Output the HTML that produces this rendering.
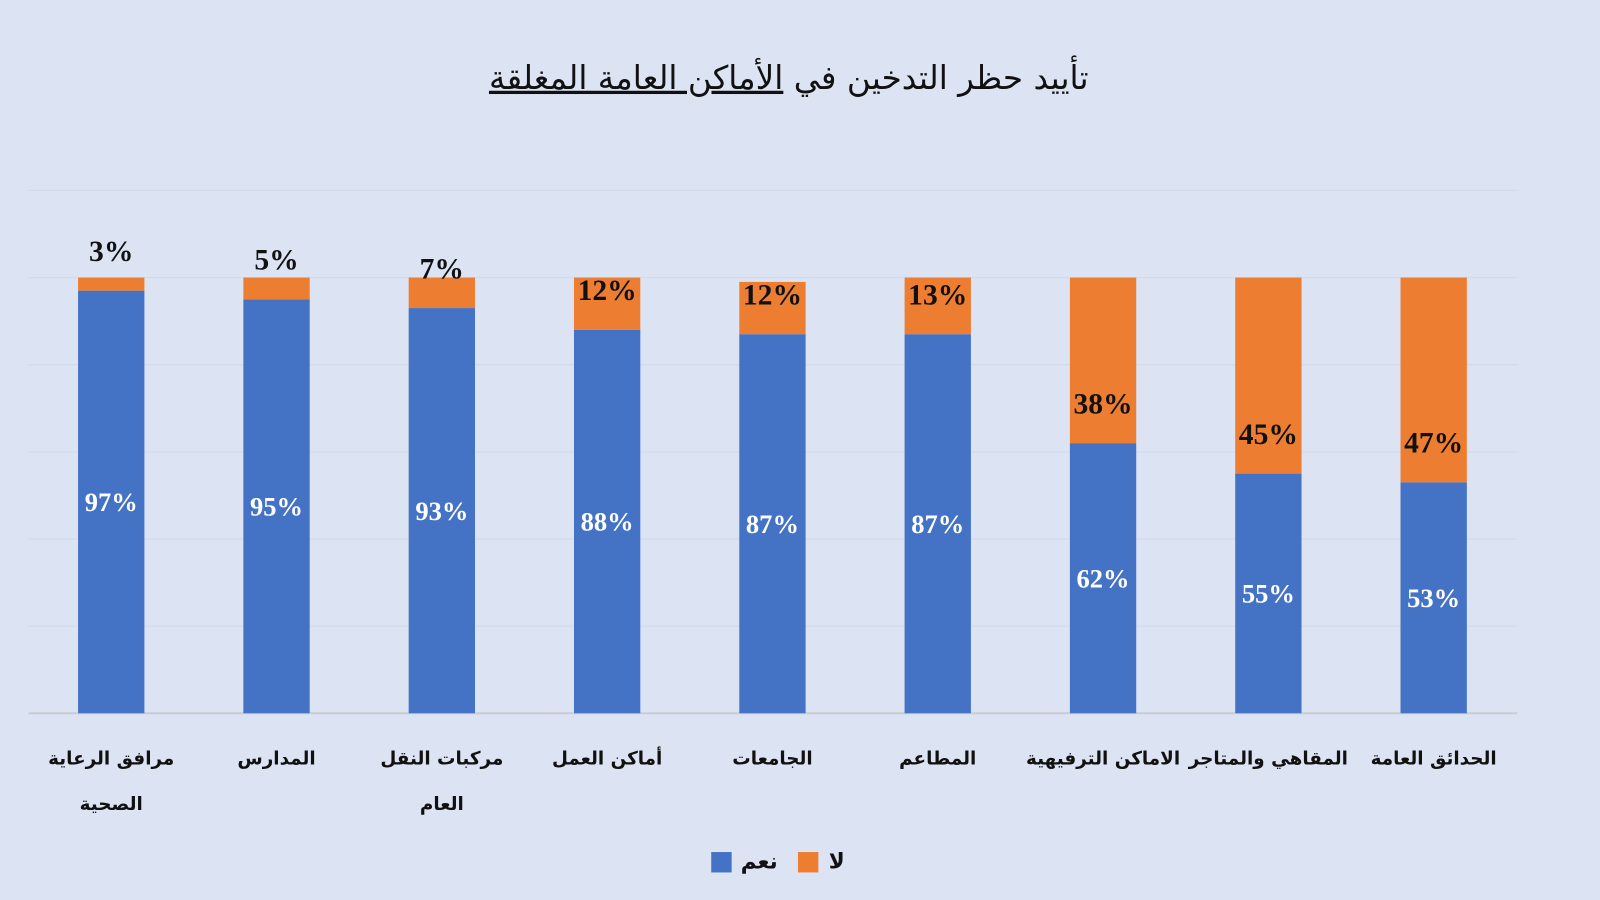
<!DOCTYPE html>
<html lang="ar"><head><meta charset="utf-8">
<style>
html,body{margin:0;padding:0;background:#dce3f3;}
svg{display:block;}
.ar{font-family:"DejaVu Sans","Liberation Sans",sans-serif;}
.num{font-family:"Liberation Serif",serif;font-weight:bold;}
</style></head>
<body>
<svg id="chart" width="1600" height="900" viewBox="0 0 1568 882" xmlns="http://www.w3.org/2000/svg">
<rect width="1568" height="882" fill="#dce3f3"/>
<text class="ar" x="773" y="87" font-size="32" text-anchor="middle" direction="rtl" fill="#111">تأييد حظر التدخين في <tspan text-decoration="underline">الأماكن العامة المغلقة</tspan></text>
<g id="grid"></g>
<g id="bars"></g>
<g id="xlabels"></g>
<g>
<rect x="697" y="835" width="20" height="20" fill="#4472c4"/>
<text class="ar" x="744" y="851" font-size="21" font-weight="bold" text-anchor="middle" fill="#111">نعم</text>
<rect x="782" y="835" width="20" height="20" fill="#ed7d31"/>
<text class="ar" x="820" y="851" font-size="21" font-weight="bold" text-anchor="middle" fill="#111">لا</text>
</g>
</svg>
<script>
const categories = [["مرافق الرعاية","الصحية"],["المدارس"],["مركبات النقل","العام"],["أماكن العمل"],["الجامعات"],["المطاعم"],["الاماكن الترفيهية"],["المقاهي والمتاجر"],["الحدائق العامة"]];
const yesValues = [97,95,93,88,87,87,62,55,53];
const noValues = [3,5,7,12,12,13,38,45,47];
const gridTicks = [0,20,40,60,80,100,120];

const NS="http://www.w3.org/2000/svg";
const baseY=699, pxPer=4.27, x0=109, step=162, bw=65;
const y = v => baseY - v*pxPer;
const xc = i => x0 + i*step;
function mk(tag, attrs, parent){const e=document.createElementNS(NS,tag);for(const k in attrs)e.setAttribute(k,attrs[k]);parent.appendChild(e);return e;}
const grid=document.getElementById('grid'), bars=document.getElementById('bars'), xl=document.getElementById('xlabels');
gridTicks.forEach(t=>{
  const l=mk('line',{x1:28,x2:1487,y1:y(t),y2:y(t),stroke:t===0?'#c9ccd4':'#d3d9e8','stroke-width':t===0?2:1},grid);
  
  
});
categories.forEach((c,i)=>{
  const yv=yesValues[i], nv=noValues[i], cx=xc(i);
  const rb=mk('rect',{x:cx-bw/2,y:y(yv),width:bw,height:yv*pxPer,fill:'#4472c4'},bars);
  
  
  const ro=mk('rect',{x:cx-bw/2,y:y(yv+nv),width:bw,height:nv*pxPer,fill:'#ed7d31'},bars);
  
  
  const ty=mk('text',{x:cx,y:(y(yv)+baseY)/2+9,'font-size':26,'text-anchor':'middle',fill:'#fff',class:'num'},bars);
  ty.textContent=yv+'%';
  
  
  const tn=mk('text',{x:cx,y:y(yv)-39+10,'font-size':29,'text-anchor':'middle',fill:'#111',class:'num'},bars);
  tn.textContent=nv+'%';
  
  
  c.forEach((line,j)=>{
    const t=mk('text',{x:cx,y:749+j*45,'font-size':18,'font-weight':'bold','text-anchor':'middle',fill:'#111',class:'ar',direction:'rtl'},xl);
    t.textContent=line;
    
    
  });
});
</script>
</body></html>
